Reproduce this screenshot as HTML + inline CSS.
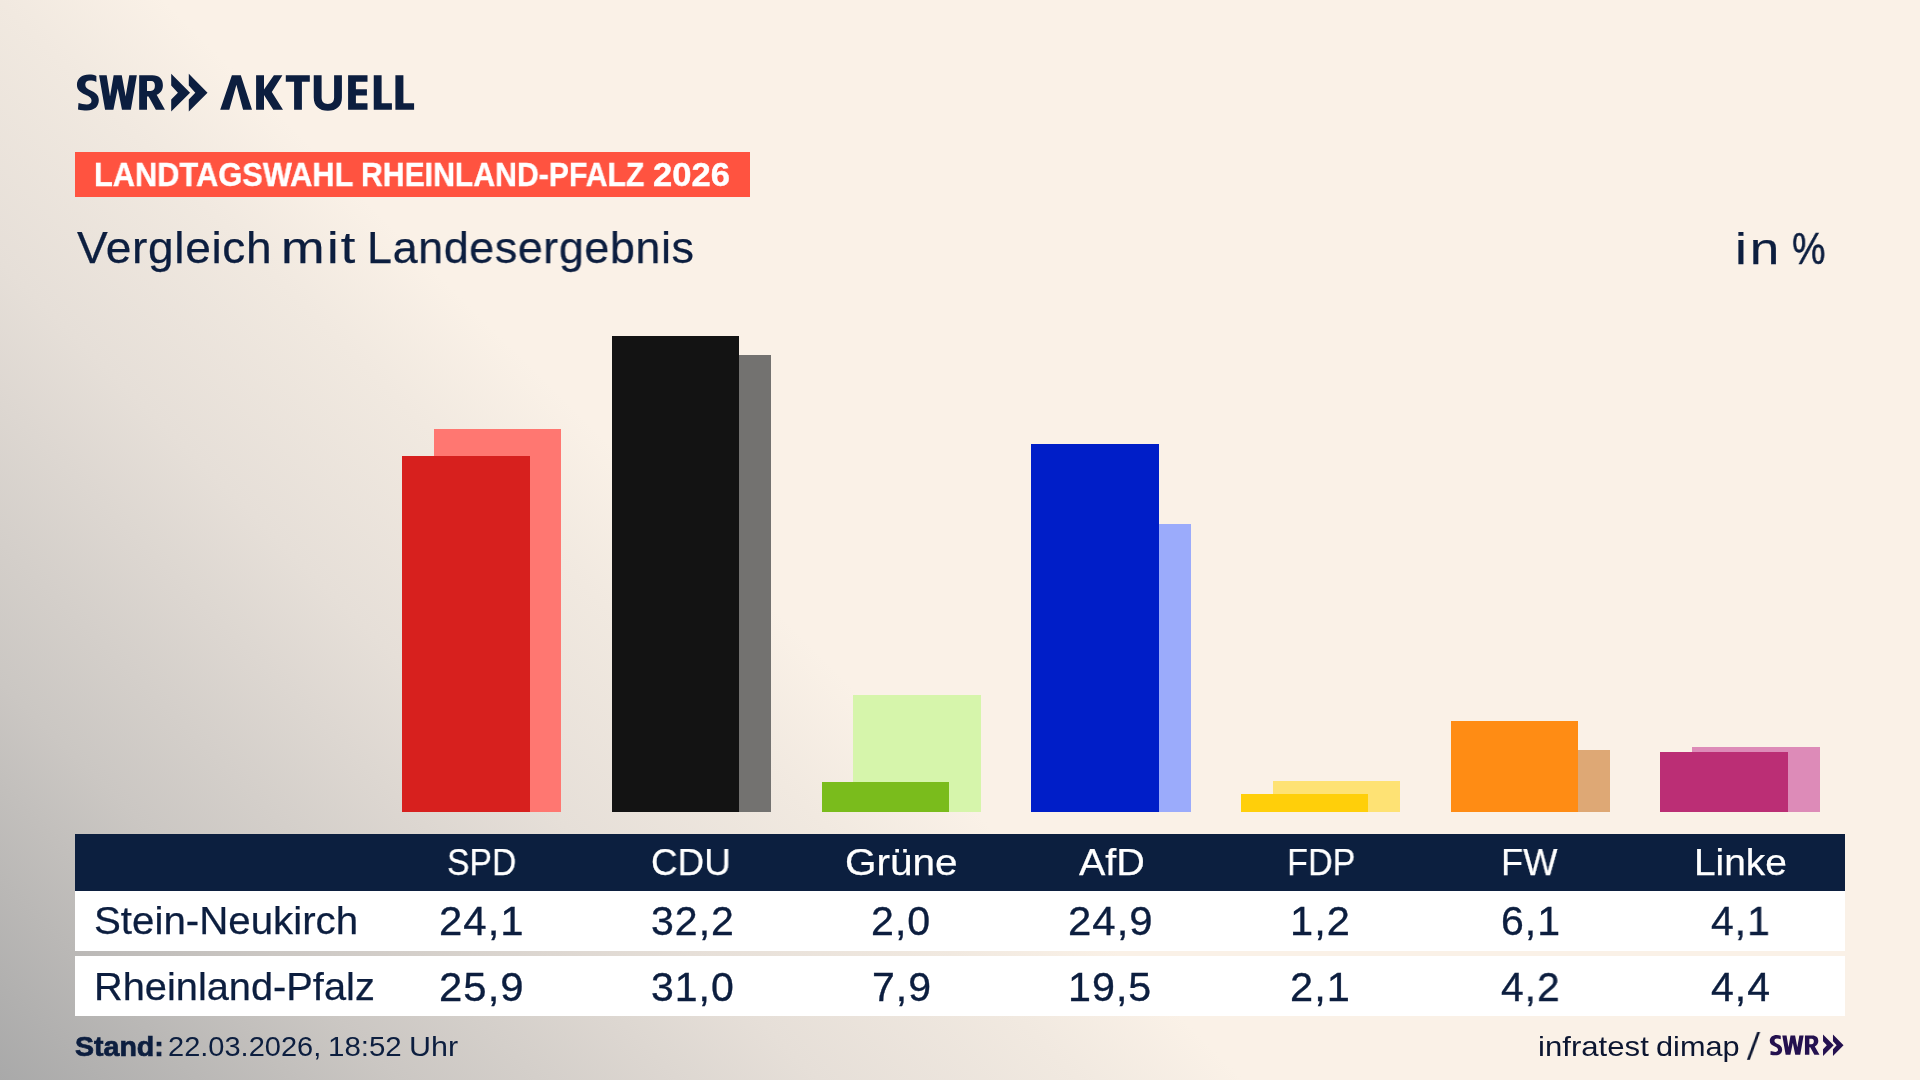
<!DOCTYPE html>
<html lang="de">
<head>
<meta charset="utf-8">
<title>SWR Aktuell – Landtagswahl Rheinland-Pfalz 2026</title>
<style>
html,body{margin:0;padding:0;}
body{width:1920px;height:1080px;overflow:hidden;position:relative;
  font-family:"Liberation Sans",sans-serif;color:#0c1e3f;
  background:#faf1e7;}
#bg{position:absolute;left:0;top:0;width:1920px;height:1080px;
  background:linear-gradient(45deg,#a9a9a9 0%,#cbc7c3 13.3%,#e6dfd8 27.3%,#f1e9e0 36%,#faf1e7 41.5%);}
.t{position:absolute;white-space:nowrap;line-height:1;margin:0;padding:0;transform-origin:0 0;will-change:transform;}
.bar{position:absolute;}
#banner{position:absolute;left:75px;top:152px;width:675px;height:44.5px;background:#ff5340;}
#thead{position:absolute;left:75px;top:834px;width:1770px;height:57px;background:#0c1f3f;}
.row{position:absolute;left:75px;width:1770px;background:#ffffff;}
</style>
</head>
<body>
<div id="bg"></div>

<!-- logo -->
<svg id="logo" style="position:absolute;left:0;top:0" width="440" height="130" viewBox="0 0 440 130">
 <g fill="#0c1e3f">
  <g transform="translate(72,68) scale(0.0520833)">
   <path d="M468 152C430 135 380 125 330 125C190 125 95 200 95 322C95 420 160 470 250 510C330 545 375 575 375 630C375 680 335 700 285 700C230 700 170 690 125 672L115 795C170 810 230 815 285 815C430 815 515 740 515 615C515 510 440 465 360 430C290 400 255 370 255 320C255 270 290 242 340 242C390 242 430 250 468 268Z"/>
   <path d="M520 140L665 140L730 545L800 140L955 140L1030 545L1100 140L1245 140L1130 800L960 800L878 395L795 800L635 800Z"/>
   <path fill-rule="evenodd" d="M1290 140L1540 140C1680 140 1745 215 1745 330C1745 420 1700 480 1625 515L1785 800L1610 800L1470 545L1440 545L1440 800L1290 800ZM1440 250L1520 250C1570 250 1592 285 1592 340C1592 400 1565 440 1510 440L1440 440Z"/>
  </g>
  <path d="M171.2 73.7L190.05 92.76L171.2 111.6L171.2 99.6L177.9 92.76L171.2 85.6Z"/>
  <path d="M188.8 73.7L207.5 92.76L188.8 111.6L188.8 99.6L195.3 92.76L188.8 85.6Z"/>
  <!-- AKTUELL -->
  <path d="M220.2 109.7L231.9 75.3L240.8 75.3L252 109.7L243.1 109.7L236.4 84.7L229.3 109.7Z"/>
  <path d="M256.1 75.3L264 75.3L264 89.5L273.9 75.3L282.4 75.3L271.8 92L283 109.7L273.3 109.7L264 95L264 109.7L256.1 109.7Z"/>
  <path d="M285.8 75.3L309.8 75.3L309.8 81.8L301.9 81.8L301.9 109.7L294.1 109.7L294.1 81.8L285.8 81.8Z"/>
  <path d="M313.75 75.3L321.6 75.3L321.6 97.5C321.6 101.8 323.8 103.9 327.85 103.9C331.9 103.9 334.1 101.8 334.1 97.5L334.1 75.3L341.9 75.3L341.9 97.5C341.9 106 336.5 110.8 327.85 110.8C319.2 110.8 313.75 106 313.75 97.5Z"/>
  <path d="M348.1 75.3L367.5 75.3L367.5 81.75L355.9 81.75L355.9 89.25L366.9 89.25L366.9 95.5L355.9 95.5L355.9 103.3L367.5 103.3L367.5 109.75L348.1 109.75Z"/>
  <path d="M373.75 75.3L381.6 75.3L381.6 103.3L391.9 103.3L391.9 109.75L373.75 109.75Z"/>
  <path d="M395.4 75.3L403.4 75.3L403.4 103.3L414.1 103.3L414.1 109.75L395.4 109.75Z"/>
 </g>
</svg>

<div id="banner"></div>

<!-- bars: back (state result) then front (local result) -->
<div class="bar" style="left:434px;top:429px;width:127px;height:383px;background:#ff7771"></div>
<div class="bar" style="left:402px;top:456px;width:128px;height:356px;background:#d7201e"></div>

<div class="bar" style="left:644px;top:355px;width:127px;height:457px;background:#737270"></div>
<div class="bar" style="left:612px;top:336px;width:127px;height:476px;background:#131313"></div>

<div class="bar" style="left:853px;top:695px;width:128px;height:117px;background:#d6f5ab"></div>
<div class="bar" style="left:822px;top:782px;width:127px;height:30px;background:#7abc1c"></div>

<div class="bar" style="left:1063px;top:524px;width:128px;height:288px;background:#9babfb"></div>
<div class="bar" style="left:1031px;top:444px;width:128px;height:368px;background:#001ec8"></div>

<div class="bar" style="left:1273px;top:781px;width:127px;height:31px;background:#fee274"></div>
<div class="bar" style="left:1241px;top:794px;width:127px;height:18px;background:#ffcf0a"></div>

<div class="bar" style="left:1482px;top:750px;width:128px;height:62px;background:#dea875"></div>
<div class="bar" style="left:1451px;top:721px;width:127px;height:91px;background:#ff8c14"></div>

<div class="bar" style="left:1692px;top:747px;width:128px;height:65px;background:#dd8bb8"></div>
<div class="bar" style="left:1660px;top:752px;width:128px;height:60px;background:#bb2e75"></div>

<!-- table -->
<div id="thead"></div>
<div class="row" style="top:890.5px;height:60.5px;"></div>
<div class="row" style="top:955.7px;height:60.2px;"></div>

<!-- text -->
<div class="t" style="left:93.51px;top:158.90px;font-size:32.5px;font-weight:bold;color:#fff;transform:scaleX(0.9472);-webkit-text-stroke:0.4px #fff;">LANDTAGSWAHL</div>
<div class="t" style="left:360.94px;top:158.90px;font-size:32.5px;font-weight:bold;color:#fff;transform:scaleX(0.9284);-webkit-text-stroke:0.4px #fff;">RHEINLAND-PFALZ</div>
<div class="t" style="left:652.64px;top:158.90px;font-size:32.5px;font-weight:bold;color:#fff;transform:scaleX(1.0633);-webkit-text-stroke:0.4px #fff;">2026</div>
<div class="t" style="left:76.70px;top:225.40px;font-size:45px;letter-spacing:0.6px;transform:scaleX(1.0246);-webkit-text-stroke:0.25px #0c1e3f;">Vergleich</div>
<div class="t" style="left:280.71px;top:225.40px;font-size:45px;letter-spacing:2px;transform:scaleX(1.1621);-webkit-text-stroke:0.25px #0c1e3f;">mit</div>
<div class="t" style="left:367.31px;top:225.40px;font-size:45px;letter-spacing:0.6px;transform:scaleX(0.9969);-webkit-text-stroke:0.25px #0c1e3f;">Landesergebnis</div>
<div class="t" style="left:1735.21px;top:225.60px;font-size:45px;letter-spacing:2.5px;transform:scaleX(1.1811);-webkit-text-stroke:0.25px #0c1e3f;">in</div>
<div class="t" style="left:1792.06px;top:225.60px;font-size:45px;transform:scaleX(0.8347);-webkit-text-stroke:0.5px #0c1e3f;">%</div>
<div class="t" style="left:447.15px;top:844.40px;font-size:37.5px;color:#fff;transform:scaleX(0.8986);-webkit-text-stroke:0.25px #fff;">SPD</div>
<div class="t" style="left:651.08px;top:844.40px;font-size:37.5px;color:#fff;transform:scaleX(0.9811);-webkit-text-stroke:0.25px #fff;">CDU</div>
<div class="t" style="left:844.71px;top:844.40px;font-size:37.5px;color:#fff;transform:scaleX(1.0802);-webkit-text-stroke:0.25px #fff;">Grüne</div>
<div class="t" style="left:1078.70px;top:844.40px;font-size:37.5px;color:#fff;transform:scaleX(1.0535);-webkit-text-stroke:0.25px #fff;">AfD</div>
<div class="t" style="left:1286.77px;top:844.40px;font-size:37.5px;color:#fff;transform:scaleX(0.9110);-webkit-text-stroke:0.25px #fff;">FDP</div>
<div class="t" style="left:1501.20px;top:844.40px;font-size:37.5px;color:#fff;transform:scaleX(0.9665);-webkit-text-stroke:0.25px #fff;">FW</div>
<div class="t" style="left:1693.69px;top:844.40px;font-size:37.5px;color:#fff;transform:scaleX(1.0358);-webkit-text-stroke:0.25px #fff;">Linke</div>
<div class="t" style="left:93.77px;top:902.40px;font-size:38.5px;transform:scaleX(1.0461);-webkit-text-stroke:0.25px #0c1e3f;">Stein-Neukirch</div>
<div class="t" style="left:93.60px;top:968.00px;font-size:38.5px;transform:scaleX(1.0330);-webkit-text-stroke:0.25px #0c1e3f;">Rheinland-Pfalz</div>
<div class="t" style="left:439.06px;top:901.20px;font-size:41px;letter-spacing:1.0px;transform:scaleX(1.0215);-webkit-text-stroke:0.35px #0c1e3f;">24,1</div>
<div class="t" style="left:650.50px;top:901.20px;font-size:41px;letter-spacing:1.0px;transform:scaleX(1.0013);-webkit-text-stroke:0.35px #0c1e3f;">32,2</div>
<div class="t" style="left:871.29px;top:901.20px;font-size:41px;letter-spacing:1.0px;transform:scaleX(1.0036);-webkit-text-stroke:0.35px #0c1e3f;">2,0</div>
<div class="t" style="left:1068.36px;top:901.20px;font-size:41px;letter-spacing:1.0px;transform:scaleX(1.0215);-webkit-text-stroke:0.35px #0c1e3f;">24,9</div>
<div class="t" style="left:1290.06px;top:901.20px;font-size:41px;letter-spacing:1.0px;transform:scaleX(1.0148);-webkit-text-stroke:0.35px #0c1e3f;">1,2</div>
<div class="t" style="left:1500.70px;top:901.20px;font-size:41px;letter-spacing:1.0px;transform:scaleX(1.0009);-webkit-text-stroke:0.35px #0c1e3f;">6,1</div>
<div class="t" style="left:1710.55px;top:901.20px;font-size:41px;letter-spacing:1.0px;transform:scaleX(0.9947);-webkit-text-stroke:0.35px #0c1e3f;">4,1</div>
<div class="t" style="left:439.06px;top:967.20px;font-size:41px;letter-spacing:1.0px;transform:scaleX(1.0215);-webkit-text-stroke:0.35px #0c1e3f;">25,9</div>
<div class="t" style="left:650.50px;top:967.20px;font-size:41px;letter-spacing:1.0px;transform:scaleX(0.9981);-webkit-text-stroke:0.35px #0c1e3f;">31,0</div>
<div class="t" style="left:872.22px;top:967.20px;font-size:41px;letter-spacing:1.0px;transform:scaleX(0.9919);-webkit-text-stroke:0.35px #0c1e3f;">7,9</div>
<div class="t" style="left:1068.48px;top:967.20px;font-size:41px;letter-spacing:1.0px;transform:scaleX(1.0058);-webkit-text-stroke:0.35px #0c1e3f;">19,5</div>
<div class="t" style="left:1290.47px;top:967.20px;font-size:41px;letter-spacing:1.0px;transform:scaleX(1.0136);-webkit-text-stroke:0.35px #0c1e3f;">2,1</div>
<div class="t" style="left:1500.85px;top:967.20px;font-size:41px;letter-spacing:1.0px;transform:scaleX(0.9938);-webkit-text-stroke:0.35px #0c1e3f;">4,2</div>
<div class="t" style="left:1710.55px;top:967.20px;font-size:41px;letter-spacing:1.0px;transform:scaleX(0.9991);-webkit-text-stroke:0.35px #0c1e3f;">4,4</div>
<div class="t" style="left:75.29px;top:1033.20px;font-size:28px;font-weight:bold;transform:scaleX(1.0196);-webkit-text-stroke:0.7px #0c1e3f;">Stand:</div>
<div class="t" style="left:168.42px;top:1033.20px;font-size:27.5px;transform:scaleX(1.0549);">22.03.2026,</div>
<div class="t" style="left:327.86px;top:1033.20px;font-size:27.5px;transform:scaleX(1.0718);">18:52</div>
<div class="t" style="left:409.03px;top:1033.20px;font-size:27.5px;transform:scaleX(1.1078);">Uhr</div>
<div class="t" style="left:1538.06px;top:1032.40px;font-size:28.5px;color:#0c1631;transform:scaleX(1.0932);">infratest</div>
<div class="t" style="left:1656.15px;top:1032.40px;font-size:28.5px;color:#0c1631;transform:scaleX(1.0764);">dimap</div>
<div class="t" style="left:1746.90px;top:1028.30px;font-size:38px;color:#0c1631;transform-origin:0 31.00px;transform:skewX(-6deg) scaleX(0.9723);">/</div>
<!-- footer -->
<svg id="logo2" style="position:absolute;left:1760px;top:1025px" width="100" height="40" viewBox="0 0 100 40">
 <g fill="#24114f" transform="translate(-33.7,-32.1) scale(0.565)">
  <g transform="translate(72,68) scale(0.0520833)">
   <path d="M468 152C430 135 380 125 330 125C190 125 95 200 95 322C95 420 160 470 250 510C330 545 375 575 375 630C375 680 335 700 285 700C230 700 170 690 125 672L115 795C170 810 230 815 285 815C430 815 515 740 515 615C515 510 440 465 360 430C290 400 255 370 255 320C255 270 290 242 340 242C390 242 430 250 468 268Z"/>
   <path d="M520 140L665 140L730 545L800 140L955 140L1030 545L1100 140L1245 140L1130 800L960 800L878 395L795 800L635 800Z"/>
   <path fill-rule="evenodd" d="M1290 140L1540 140C1680 140 1745 215 1745 330C1745 420 1700 480 1625 515L1785 800L1610 800L1470 545L1440 545L1440 800L1290 800ZM1440 250L1520 250C1570 250 1592 285 1592 340C1592 400 1565 440 1510 440L1440 440Z"/>
  </g>
  <path d="M171.2 73.7L190.05 92.76L171.2 111.6L171.2 99.6L177.9 92.76L171.2 85.6Z"/>
  <path d="M188.8 73.7L207.5 92.76L188.8 111.6L188.8 99.6L195.3 92.76L188.8 85.6Z"/>
 </g>
</svg>
</body>
</html>
